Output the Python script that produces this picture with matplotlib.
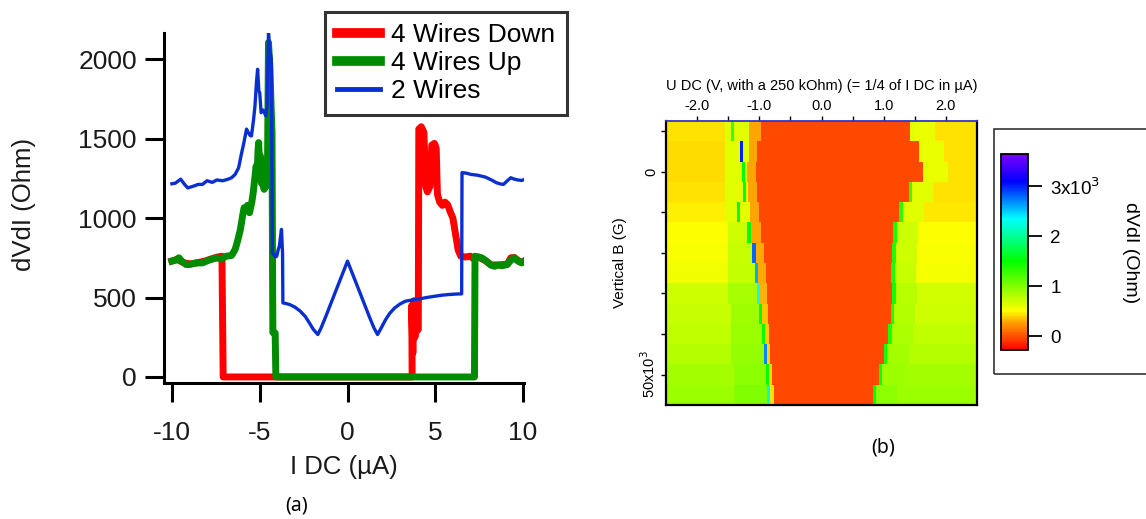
"""
Two-panel figure: (a) dV/dI vs I DC curves, (b) dV/dI map vs U DC and vertical B.
"""

import numpy as np
import matplotlib
matplotlib.use("Agg")
import matplotlib.pyplot as plt
from matplotlib.colors import LinearSegmentedColormap
from matplotlib.patches import Rectangle

plt.rcParams['font.family'] = ['Liberation Sans', 'DejaVu Sans']

# ========================================
# Data, panel (a): dV/dI (Ohm) vs I DC (uA)
# ========================================
down_x = [-10.0, -9.7, -9.45, -9.2, -8.9, -8.5, -8.1, -7.7, -7.4, -7.15, -7.08,
          3.68, 3.66, 3.72, 3.78, 3.84, 3.9, 3.96, 4.03, 4.06, 4.2, 4.35, 4.45,
          4.55, 4.7, 4.8, 4.95, 5.05, 5.12, 5.25, 5.4, 5.55, 5.7, 5.85, 6.0,
          6.15, 6.3, 6.45, 6.7, 7.0, 7.2, 7.45, 7.8, 8.2, 8.6, 9.1, 9.3, 9.5,
          9.8, 10.0]
down_y = [730, 740, 725, 715, 712, 720, 730, 745, 755, 760, 0,
          0, 450, 150, 480, 250, 470, 290, 300, 1560, 1575, 1540, 1200,
          1165, 1200, 1460, 1470, 1440, 1150, 1100, 1080, 1100, 1085, 1040, 1000,
          900, 800, 760, 755, 760, 742, 755, 735, 705, 705, 710, 750, 752,
          725, 725]

up_x = [-10.0, -9.8, -9.6, -9.45, -9.2, -9.0, -8.6, -8.26, -7.9, -7.6, -7.44,
        -7.2, -6.9, -6.6, -6.4, -6.25, -6.1, -5.98, -5.89, -5.8, -5.7, -5.58,
        -5.45, -5.37, -5.28, -5.2, -5.15, -5.1, -5.06, -5.0, -4.96, -4.9, -4.86,
        -4.8, -4.75, -4.65, -4.59, -4.55, -4.5, -4.42, -4.35, -4.3, -4.27, -4.25,
        -4.12, -4.08, 7.23, 7.26, 7.45, 7.64, 7.9, 8.15, 8.37, 8.6, 8.8, 9.1,
        9.3, 9.5, 9.7, 9.92, 10.0]
up_y = [729, 735, 750, 730, 708, 708, 718, 718, 735, 745, 750,
        742, 760, 765, 802, 860, 929, 1010, 1065, 1050, 1080, 1034,
        1100, 1160, 1250, 1328, 1250, 1420, 1475, 1300, 1391, 1220, 1286,
        1200, 1181, 1210, 1202, 1400, 2105, 1950, 1700, 1538, 700, 280,
        277, 0, 0, 760, 755, 750, 730, 705, 697, 705, 700, 708,
        735, 750, 730, 718, 725]

two_x = [-10.0, -9.8, -9.5, -9.3, -9.1, -8.8, -8.5, -8.26, -8.0, -7.7, -7.44,
         -7.1, -6.8, -6.6, -6.4, -6.2, -6.05, -5.9, -5.75, -5.68, -5.55, -5.47,
         -5.35, -5.27, -5.18, -5.12, -5.05, -5.0, -4.92, -4.8, -4.65, -4.58,
         -4.5, -4.42, -4.34, -4.28, -4.2, -4.1, -4.03, -3.95, -3.88, -3.76,
         -3.7, -3.68, -3.5, -3.3, -3.0, -2.69, -2.4, -2.17, -1.95, -1.69, -1.5,
         -1.24, -0.62, 0.0, 0.62, 1.24, 1.5, 1.71, 1.95, 2.17, 2.4, 2.69, 3.0,
         3.3, 3.7, 4.13, 4.5, 4.96, 5.4, 5.79, 6.2, 6.5, 6.52, 6.8, 7.02, 7.4,
         7.85, 8.2, 8.47, 8.7, 8.88, 9.1, 9.3, 9.5, 9.7, 9.92, 10.0]
two_y = [1216, 1220, 1245, 1215, 1190, 1200, 1212, 1212, 1235, 1225, 1240,
         1235, 1245, 1254, 1275, 1317, 1400, 1475, 1560, 1545, 1520, 1517,
         1620, 1706, 1860, 1937, 1800, 1790, 1664, 1680, 1643, 1700,
         2168, 2050, 2000, 781, 770, 755, 760, 800, 824, 929,
         780, 466, 462, 456, 440, 414, 380, 340, 300, 267, 310,
         380, 555, 729, 555, 380, 310, 267, 315, 361, 400, 435, 460,
         477, 485, 492, 500, 508, 515, 519, 522, 523, 1286, 1282, 1275, 1270,
         1258, 1240, 1223, 1215, 1212, 1235, 1254, 1245, 1240, 1237, 1240]

labels_a = ['4 Wires Down', '4 Wires Up', '2 Wires']

# ========================================
# Data, panel (b): one entry per field row (top to bottom)
# ========================================
b_rows = [-10000, -5000, 0, 5000, 10000, 15000, 20000, 25000, 30000, 35000,
          40000, 45000, 50000, 55000]
# dV/dI level far from the gap, left and right (Ohm)
far_left = [430, 420, 420, 440, 460, 510, 520, 560, 700, 720, 760, 800, 860, 900]
near_left = [620, 620, 620, 620, 620, 700, 720, 740, 850, 880, 900, 920, 950, 1000]
near_left_start = [-1.55, -1.55, -1.55, -1.55, -1.55, -1.5, -1.5, -1.5, -1.5,
                   -1.45, -1.45, -1.45, -1.4, -1.4]
# sharp peak line at the left edge of the gap
peak_u = [-1.45, -1.31, -1.28, -1.26, -1.36, -1.19, -1.11, -1.07, -1.04, -1.0,
          -0.96, -0.93, -0.90, -0.88]
peak_val = [1300, 3000, 1500, 1500, 1500, 1500, 2800, 2600, 2350, 1500, 1500,
            2700, 1500, 2200]
# orange strip before the zero-resistance region
orange_u = [-1.17, -1.17, -1.20, -1.18, -1.15, -1.13, -1.06, -1.02, -0.99,
            -0.95, -0.91, -0.88, -0.85, -0.83]
orange_val = [280, 280, 280, 280, 280, 280, 300, 300, 310, 350, 380, 400, 400, 430]
# zero-resistance region
red_left = [-0.98, -1.04, -1.05, -1.04, -1.0, -0.97, -0.93, -0.90, -0.88,
            -0.86, -0.85, -0.83, -0.80, -0.77]
red_right = [1.42, 1.57, 1.63, 1.40, 1.25, 1.15, 1.13, 1.12, 1.13, 1.11, 1.07,
             1.00, 0.92, 0.82]
red_val = -30
right_edge_val = [620, 620, 620, 1300, 1350, 1400, 1400, 1400, 1450, 1400,
                  1400, 1450, 1450, 1500]
near_right = [580, 580, 580, 620, 620, 700, 700, 720, 780, 800, 830, 860, 900, 950]
far_right = [440, 440, 440, 440, 450, 510, 520, 540, 680, 700, 760, 800, 860, 900]

cbar_ticks = [0, 1000, 2000, 3000]
cbar_labels = ['0', '1', '2', r'3x10$^{3}$']

# ========================================
# Figure
# ========================================
W, H = 1146, 519
fig = plt.figure(figsize=(W / 100, H / 100), dpi=100)

def fbox(x0, y0, x1, y1):
    # pixel box (top-left origin) -> figure fraction rect
    return [x0 / W, 1 - y1 / H, (x1 - x0) / W, (y1 - y0) / H]

# ----------------------------------------
# Panel (a)
# ----------------------------------------
ax1 = fig.add_axes(fbox(164, 33, 524, 383))
ax1.plot(down_x, down_y, color='#ff0000', linewidth=5, solid_joinstyle='round',
         label=labels_a[0], zorder=2)
ax1.plot(up_x, up_y, color='#008c00', linewidth=5, solid_joinstyle='round',
         label=labels_a[1], zorder=3)
ax1.plot(two_x, two_y, color='#0a2fd0', linewidth=2.4, label=labels_a[2], zorder=4)

ax1.set_xlim(-10.45, 10.05)
ax1.set_ylim(-38, 2165)
ax1.set_xticks([-10, -5, 0, 5, 10])
ax1.set_xticklabels(['-10', '-5', '0', '5', '10'])
ax1.set_yticks([0, 500, 1000, 1500, 2000])
ax1.spines['top'].set_visible(False)
ax1.spines['right'].set_visible(False)
for s in ['left', 'bottom']:
    ax1.spines[s].set_linewidth(2.2)
ax1.tick_params(direction='out', length=13.5, width=2.2, labelsize=19,
                colors='black', labelcolor='#1a1a1a')
ax1.tick_params(axis='x', pad=14)
ax1.tick_params(axis='y', pad=6)
ax1.set_xlabel('I DC (µA)', fontsize=18.5, color='#1a1a1a', labelpad=7)
ax1.set_ylabel('dVdI (Ohm)', fontsize=18.5, color='#1a1a1a')
ax1.yaxis.set_label_coords(-0.356, 0.51)

leg = ax1.legend(loc='upper left', bbox_to_anchor=(325 / W, 1 - 11.5 / H),
                 bbox_transform=fig.transFigure, fontsize=19, frameon=True,
                 fancybox=False, borderpad=0.45, labelspacing=0.14,
                 handlelength=1.65, handletextpad=0.4, borderaxespad=0)
leg.get_frame().set_edgecolor('black')
leg.get_frame().set_linewidth(2.2)
for h in leg.get_lines()[:2]:
    h.set_linewidth(7)
leg.get_lines()[2].set_linewidth(3.5)

fig.text(297 / W, 1 - 506 / H, '(a)', fontsize=14, family=['Noto Sans'],
         ha='center', va='center')

# ----------------------------------------
# Panel (b)
# ----------------------------------------
vmin, vmax = -279, 3647
anchors = [(-279, '#ff0000'), (280, '#ffa500'), (500, '#ffff00'),
           (1500, '#00ff00'), (2350, '#00ffff'), (3100, '#0000ff'),
           (3647, '#8000ff')]
cmap = LinearSegmentedColormap.from_list(
    'igor_rainbow', [((v - vmin) / (vmax - vmin), c) for v, c in anchors])

u_edges = np.linspace(-2.5, 2.5, 501)
u_mid = 0.5 * (u_edges[:-1] + u_edges[1:])
b_edges = np.array(b_rows + [b_rows[-1] + 5000]) - 2500

Z = np.zeros((len(b_rows), len(u_mid)))
for i in range(len(b_rows)):
    row = np.full(len(u_mid), float(far_left[i]))
    row[u_mid >= near_left_start[i]] = near_left[i]
    row[(u_mid >= peak_u[i]) & (u_mid < peak_u[i] + 0.05)] = peak_val[i]
    row[u_mid >= orange_u[i]] = orange_val[i]
    row[u_mid >= red_left[i]] = red_val
    row[u_mid >= red_right[i]] = right_edge_val[i]
    row[u_mid >= red_right[i] + 0.06] = near_right[i]
    row[u_mid >= red_right[i] + 0.4] = far_right[i]
    Z[i] = row

ax2 = fig.add_axes(fbox(666, 121, 977, 405))
mesh = ax2.pcolormesh(u_edges, b_edges, Z, cmap=cmap, vmin=vmin, vmax=vmax,
                      shading='flat')
ax2.set_xlim(-2.5, 2.5)
ax2.set_ylim(57500, -12500)
ax2.xaxis.tick_top()
ax2.xaxis.set_label_position('top')
ax2.set_xticks([-2, -1, 0, 1, 2])
ax2.set_xticklabels(['-2.0', '-1.0', '0.0', '1.0', '2.0'])
ax2.set_xticks([-1.5, -0.5, 0.5, 1.5], minor=True)
ax2.set_yticks([0, 50000])
ax2.set_yticklabels(['0', r'50x10$^{3}$'], rotation=90, va='center')
ax2.set_yticks([-10000, 10000, 20000, 30000, 40000], minor=True)
ax2.tick_params(which='both', direction='out', length=3.5, width=1,
                labelsize=10.5, pad=2)
ax2.set_xlabel('U DC (V, with a 250 kOhm) (= 1/4 of I DC in µA)', fontsize=10.5,
               labelpad=7)
ax2.set_ylabel('Vertical B (G)', fontsize=11, labelpad=9)
for s in ['left', 'bottom', 'right']:
    ax2.spines[s].set_linewidth(1.6)
ax2.spines['top'].set_color('#3535c8')
ax2.spines['top'].set_linewidth(1.3)

# colorbar inside an annotation box that runs off the right edge
fig.patches.append(Rectangle((994 / W, 1 - 374 / H), 200 / W, 245 / H,
                             transform=fig.transFigure, fill=False,
                             edgecolor='#333333', linewidth=1.2))
cax = fig.add_axes(fbox(1001, 154, 1028, 350))
cb = fig.colorbar(mesh, cax=cax)
cb.set_ticks(cbar_ticks)
cb.set_ticklabels(cbar_labels)
cb.outline.set_linewidth(1.3)
cax.tick_params(direction='out', length=10, width=1.3, labelsize=13.5, pad=6)
cb.minorticks_off()
fig.text(1131 / W, 1 - 253 / H, 'dVdI (Ohm)', fontsize=14, rotation=270,
         ha='center', va='center')

fig.text(883 / W, 1 - 447 / H, '(b)', fontsize=14, family=['Noto Sans'],
         ha='center', va='center')

plt.savefig('out.png', dpi=100)
print("Saved: out.png")
